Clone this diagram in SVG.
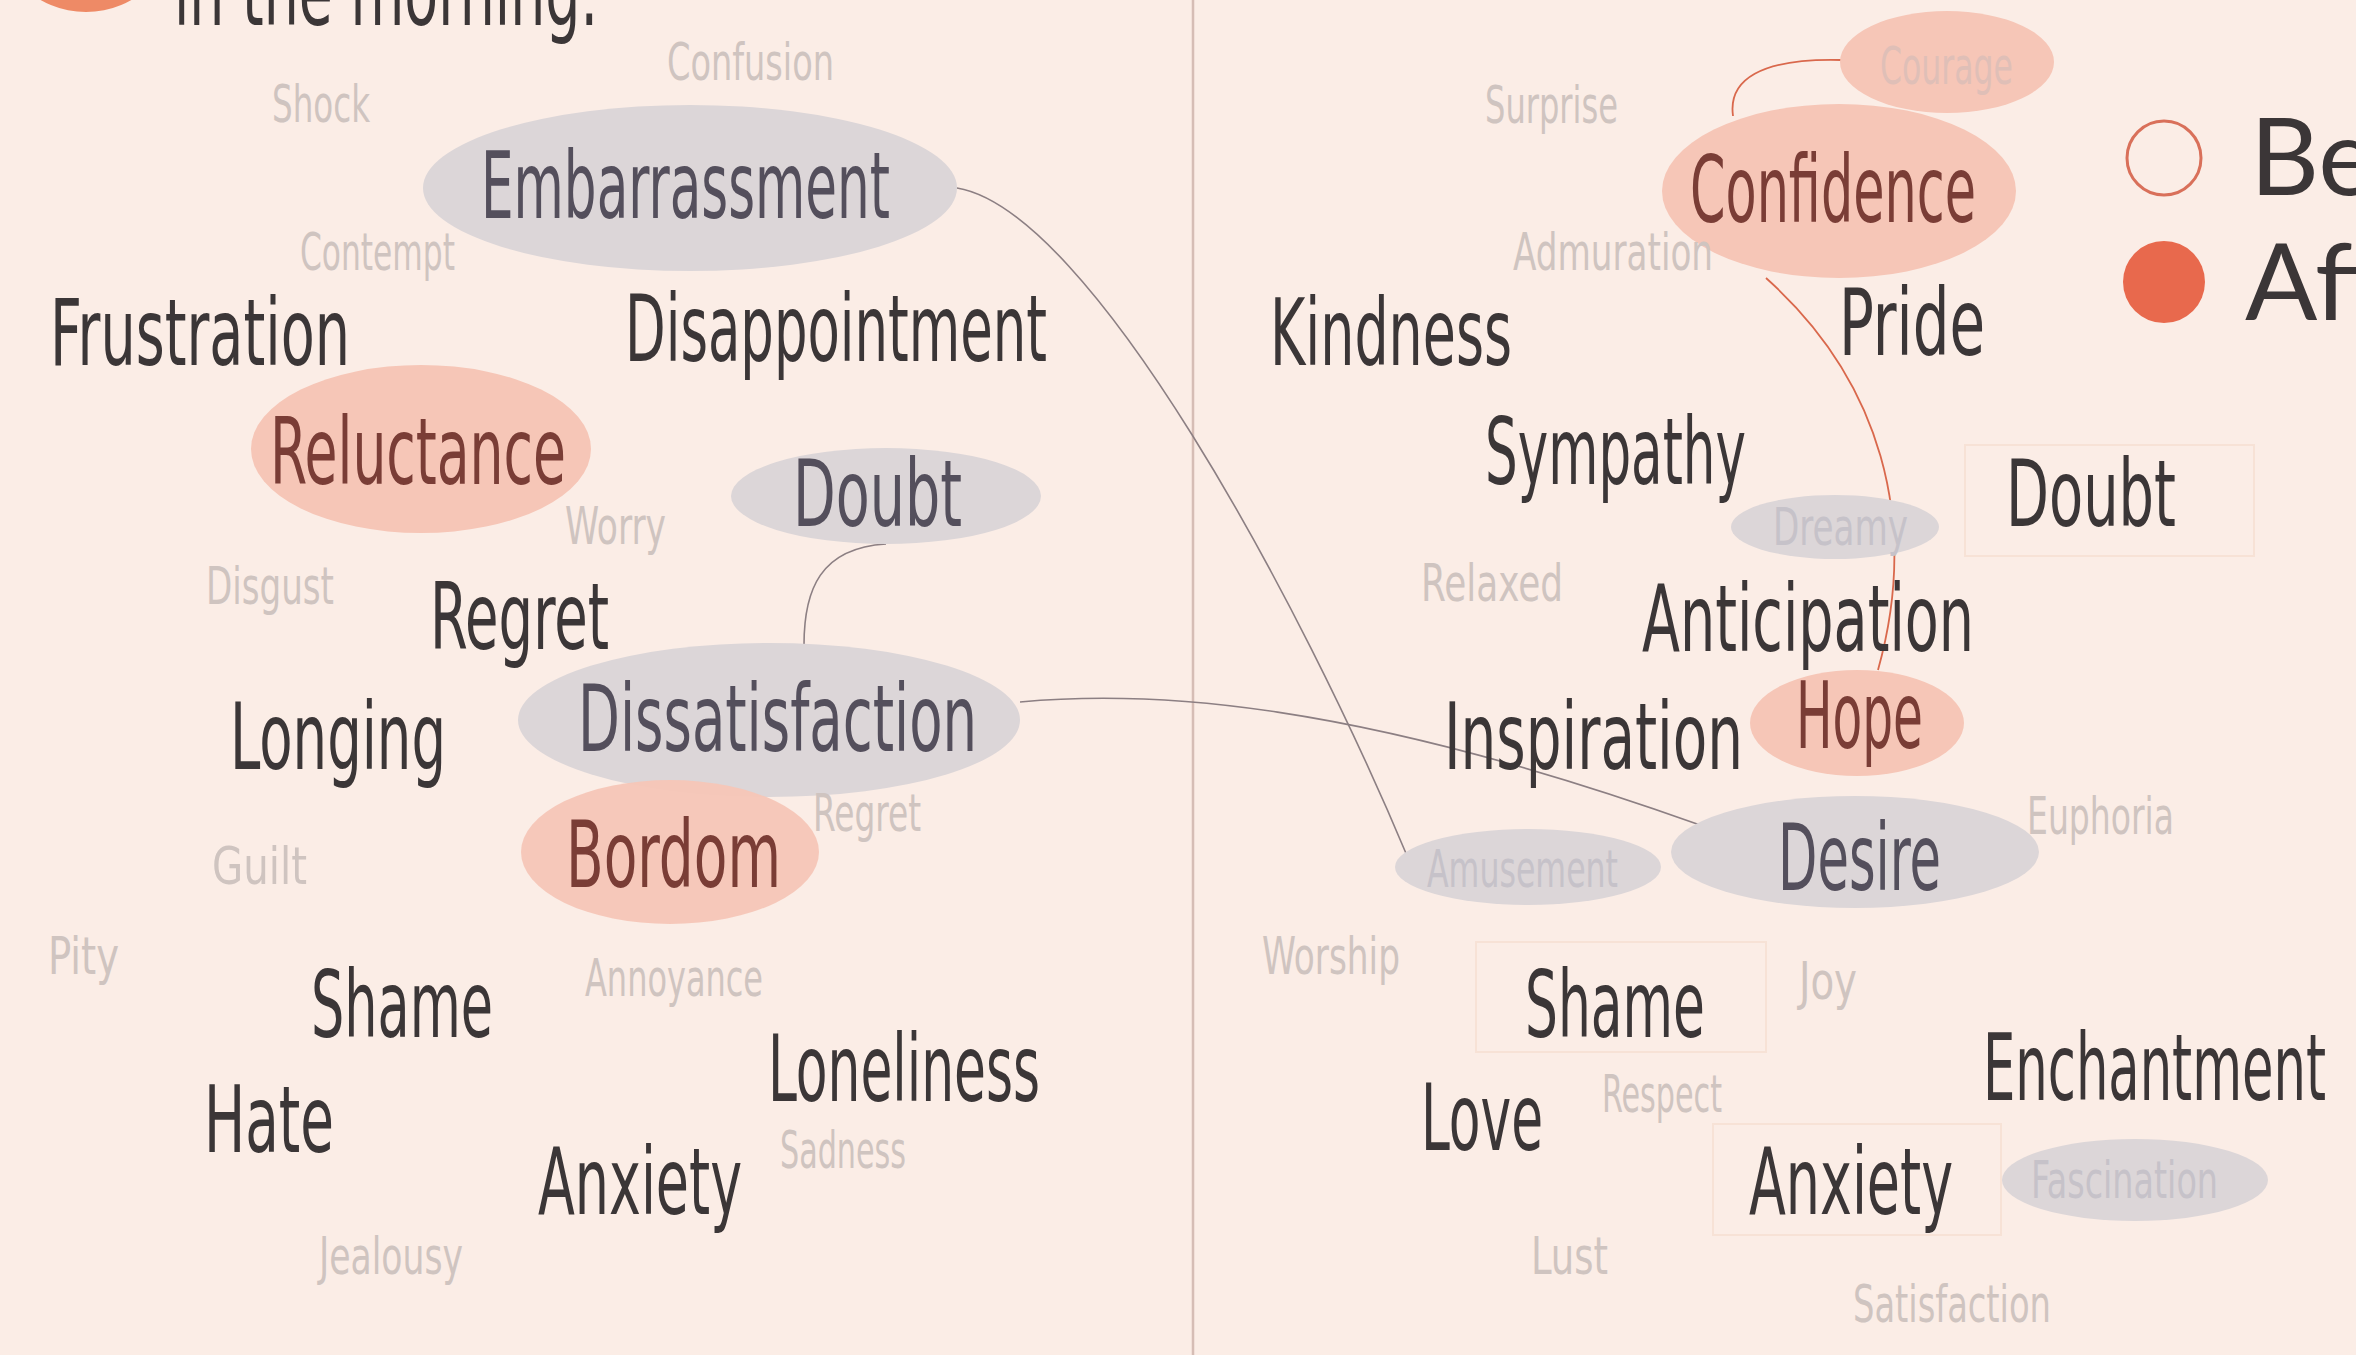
<svg xmlns="http://www.w3.org/2000/svg" width="2356" height="1355" viewBox="0 0 2356 1355">
<defs>
<style>
.w{font-family:"DejaVu Sans Condensed","Liberation Sans Narrow","Liberation Sans",sans-serif;font-size:92px;fill:#3b3637}
.l{font-family:"DejaVu Sans Condensed","Liberation Sans Narrow","Liberation Sans",sans-serif;font-size:52px;fill:#cfc4c0}
.gray{fill:#dcd6d8}
.pink{fill:#f6c6b7}
.gt{fill:#544f5c}
.pt{fill:#7a3d36}
.lg{fill:#c6c2c9}
.box{fill:none;stroke:#f7e2d6;stroke-width:2}
.c{fill:none;stroke:#8c7f83;stroke-width:1.6}
.cr{fill:none;stroke:#d9684c;stroke-width:1.8}
.leg{font-family:Lato,"Open Sans",sans-serif;font-size:107px;fill:#3b3637}
</style>
</defs>
<rect width="2356" height="1355" fill="#fbede6"/>
<line x1="1193" y1="0" x2="1193" y2="1355" stroke="#d6bdb5" stroke-width="2.5"/>

<g id="header">
<circle cx="86" cy="-80" r="92" fill="#ee8a66"/>
<text class="w" x="174" y="25" textLength="424" lengthAdjust="spacingAndGlyphs">in the morning.</text>
</g>

<g id="connectors">
<path class="c" d="M957,188 C1090,210 1300,600 1408,858"/>
<path class="c" d="M1020,702 C1150,690 1350,700 1700,825"/>
<path class="c" d="M886,544 C820,548 804,590 804,645"/>
<path class="cr" d="M1733,116 C1728,80 1760,58 1841,60"/>
<path class="cr" d="M1766,278 C1880,380 1920,520 1878,670"/>
</g>

<!-- left side -->
<g id="n-confusion"><text class="l" x="667" y="80" textLength="167" lengthAdjust="spacingAndGlyphs">Confusion</text></g>
<g id="n-shock"><text class="l" x="272" y="122" textLength="98" lengthAdjust="spacingAndGlyphs">Shock</text></g>
<g id="n-embarrassment"><ellipse class="gray" cx="690" cy="188" rx="267" ry="83"/><text class="w gt" x="481" y="218" textLength="409" lengthAdjust="spacingAndGlyphs">Embarrassment</text></g>
<g id="n-contempt"><text class="l" x="300" y="270" textLength="155" lengthAdjust="spacingAndGlyphs">Contempt</text></g>
<g id="n-frustration"><text class="w" x="50" y="365" textLength="300" lengthAdjust="spacingAndGlyphs">Frustration</text></g>
<g id="n-disappointment"><text class="w" x="625" y="361" textLength="422" lengthAdjust="spacingAndGlyphs">Disappointment</text></g>
<g id="n-reluctance"><ellipse class="pink" cx="421" cy="449" rx="170" ry="84"/><text class="w pt" x="270" y="484" textLength="296" lengthAdjust="spacingAndGlyphs">Reluctance</text></g>
<g id="n-worry"><text class="l" x="565" y="544" textLength="101" lengthAdjust="spacingAndGlyphs">Worry</text></g>
<g id="n-doubt-l"><ellipse class="gray" cx="886" cy="496" rx="155" ry="48"/><text class="w gt" x="793" y="526" textLength="169" lengthAdjust="spacingAndGlyphs">Doubt</text></g>
<g id="n-disgust"><text class="l" x="206" y="604" textLength="128" lengthAdjust="spacingAndGlyphs">Disgust</text></g>
<g id="n-regret"><text class="w" x="430" y="649" textLength="179" lengthAdjust="spacingAndGlyphs">Regret</text></g>
<g id="n-dissatisfaction"><ellipse class="gray" cx="769" cy="720" rx="251" ry="77"/><text class="w gt" x="578" y="751" textLength="399" lengthAdjust="spacingAndGlyphs">Dissatisfaction</text></g>
<g id="n-longing"><text class="w" x="230" y="769" textLength="216" lengthAdjust="spacingAndGlyphs">Longing</text></g>
<g id="n-bordom"><ellipse class="pink" cx="670" cy="852" rx="149" ry="72" opacity="0.95"/><text class="w pt" x="566" y="887" textLength="215" lengthAdjust="spacingAndGlyphs">Bordom</text></g>
<g id="n-regret-l"><text class="l" x="813" y="831" textLength="108" lengthAdjust="spacingAndGlyphs">Regret</text></g>
<g id="n-guilt"><text class="l" x="212" y="884" textLength="95" lengthAdjust="spacingAndGlyphs">Guilt</text></g>
<g id="n-pity"><text class="l" x="48" y="974" textLength="71" lengthAdjust="spacingAndGlyphs">Pity</text></g>
<g id="n-shame-l"><text class="w" x="311" y="1037" textLength="182" lengthAdjust="spacingAndGlyphs">Shame</text></g>
<g id="n-annoyance"><text class="l" x="585" y="996" textLength="178" lengthAdjust="spacingAndGlyphs">Annoyance</text></g>
<g id="n-loneliness"><text class="w" x="768" y="1101" textLength="272" lengthAdjust="spacingAndGlyphs">Loneliness</text></g>
<g id="n-hate"><text class="w" x="204" y="1152" textLength="130" lengthAdjust="spacingAndGlyphs">Hate</text></g>
<g id="n-sadness"><text class="l" x="780" y="1168" textLength="126" lengthAdjust="spacingAndGlyphs">Sadness</text></g>
<g id="n-anxiety-l"><text class="w" x="538" y="1214" textLength="204" lengthAdjust="spacingAndGlyphs">Anxiety</text></g>
<g id="n-jealousy"><text class="l" x="319" y="1274" textLength="144" lengthAdjust="spacingAndGlyphs">Jealousy</text></g>

<!-- right side -->
<g id="n-surprise"><text class="l" x="1485" y="123" textLength="133" lengthAdjust="spacingAndGlyphs">Surprise</text></g>
<g id="n-courage"><ellipse class="pink" cx="1947" cy="62" rx="107" ry="51"/><text class="l" x="1880" y="84" textLength="133" lengthAdjust="spacingAndGlyphs" style="fill:#dfbfb7">Courage</text></g>
<g id="n-confidence"><ellipse class="pink" cx="1839" cy="191" rx="177" ry="87"/><text class="w pt" x="1690" y="222" textLength="286" lengthAdjust="spacingAndGlyphs">Confidence</text></g>
<g id="n-admuration"><text class="l" x="1513" y="270" textLength="200" lengthAdjust="spacingAndGlyphs">Admuration</text></g>
<g id="n-kindness"><text class="w" x="1270" y="365" textLength="242" lengthAdjust="spacingAndGlyphs">Kindness</text></g>
<g id="n-pride"><text class="w" x="1839" y="355" textLength="146" lengthAdjust="spacingAndGlyphs">Pride</text></g>
<g id="legend">
<circle cx="2164" cy="158" r="37" fill="none" stroke="#d9705a" stroke-width="3"/>
<circle cx="2164" cy="282" r="41" fill="#e8694d"/>
<text class="leg" x="2250" y="195">Before</text>
<text class="leg" x="2245" y="320">After</text>
</g>
<g id="n-sympathy"><text class="w" x="1485" y="484" textLength="261" lengthAdjust="spacingAndGlyphs">Sympathy</text></g>
<g id="n-doubt-r"><rect class="box" x="1965" y="445" width="289" height="111"/><text class="w" x="2006" y="526" textLength="170" lengthAdjust="spacingAndGlyphs">Doubt</text></g>
<g id="n-dreamy"><ellipse class="gray" cx="1835" cy="527" rx="104" ry="32"/><text class="l lg" x="1773" y="545" textLength="135" lengthAdjust="spacingAndGlyphs">Dreamy</text></g>
<g id="n-relaxed"><text class="l" x="1421" y="601" textLength="142" lengthAdjust="spacingAndGlyphs">Relaxed</text></g>
<g id="n-anticipation"><text class="w" x="1642" y="651" textLength="332" lengthAdjust="spacingAndGlyphs">Anticipation</text></g>
<g id="n-hope"><ellipse class="pink" cx="1857" cy="723" rx="107" ry="53"/><text class="w pt" x="1796" y="748" textLength="127" lengthAdjust="spacingAndGlyphs">Hope</text></g>
<g id="n-inspiration"><text class="w" x="1444" y="769" textLength="299" lengthAdjust="spacingAndGlyphs">Inspiration</text></g>
<g id="n-euphoria"><text class="l" x="2027" y="834" textLength="147" lengthAdjust="spacingAndGlyphs">Euphoria</text></g>
<g id="n-amusement"><ellipse class="gray" cx="1528" cy="867" rx="133" ry="38"/><text class="l lg" x="1427" y="887" textLength="191" lengthAdjust="spacingAndGlyphs">Amusement</text></g>
<g id="n-desire"><ellipse class="gray" cx="1855" cy="852" rx="184" ry="56"/><text class="w gt" x="1778" y="890" textLength="163" lengthAdjust="spacingAndGlyphs">Desire</text></g>
<g id="n-worship"><text class="l" x="1262" y="974" textLength="138" lengthAdjust="spacingAndGlyphs">Worship</text></g>
<g id="n-shame-r"><rect class="box" x="1476" y="942" width="290" height="110"/><text class="w" x="1525" y="1037" textLength="180" lengthAdjust="spacingAndGlyphs">Shame</text></g>
<g id="n-joy"><text class="l" x="1799" y="999" textLength="58" lengthAdjust="spacingAndGlyphs">Joy</text></g>
<g id="n-enchantment"><text class="w" x="1983" y="1100" textLength="343" lengthAdjust="spacingAndGlyphs">Enchantment</text></g>
<g id="n-love"><text class="w" x="1421" y="1150" textLength="122" lengthAdjust="spacingAndGlyphs">Love</text></g>
<g id="n-respect"><text class="l" x="1602" y="1112" textLength="120" lengthAdjust="spacingAndGlyphs">Respect</text></g>
<g id="n-anxiety-r"><rect class="box" x="1713" y="1124" width="288" height="111"/><text class="w" x="1749" y="1214" textLength="204" lengthAdjust="spacingAndGlyphs">Anxiety</text></g>
<g id="n-fascination"><ellipse class="gray" cx="2135" cy="1180" rx="133" ry="41"/><text class="l lg" x="2031" y="1198" textLength="187" lengthAdjust="spacingAndGlyphs">Fascination</text></g>
<g id="n-lust"><text class="l" x="1531" y="1274" textLength="77" lengthAdjust="spacingAndGlyphs">Lust</text></g>
<g id="n-satisfaction"><text class="l" x="1853" y="1322" textLength="198" lengthAdjust="spacingAndGlyphs">Satisfaction</text></g>
</svg>
